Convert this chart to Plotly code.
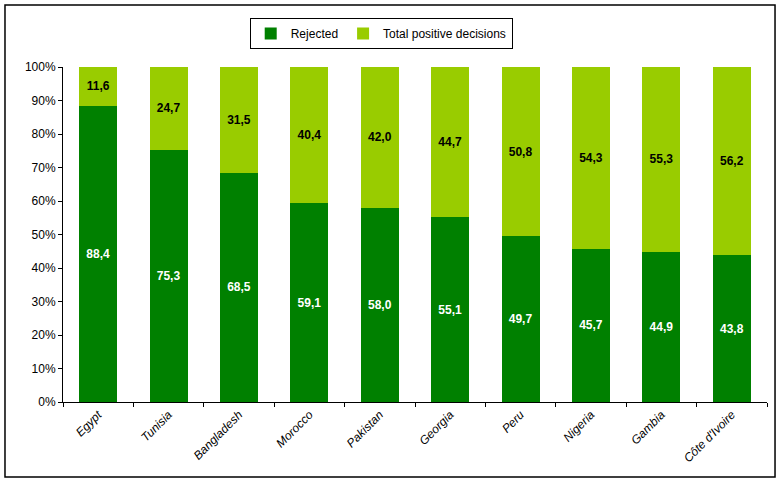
import plotly.graph_objects as go

# Données : décisions par pays
countries = ["Egypt", "Tunisia", "Bangladesh", "Morocco", "Pakistan", "Georgia",
             "Peru", "Nigeria", "Gambia", "Côte d'Ivoire"]
rejected = [88.4, 75.3, 68.5, 59.1, 58.0, 55.1, 49.7, 45.7, 44.9, 43.8]
positive = [11.6, 24.7, 31.5, 40.4, 42.0, 44.7, 50.8, 54.3, 55.3, 56.2]


def fmt(vals):
    return [f"{v:.1f}".replace(".", ",") for v in vals]


fig = go.Figure()
fig.add_trace(go.Bar(x=countries, y=rejected, name="Rejected",
                     marker=dict(color="#008000", line_width=0), text=fmt(rejected),
                     textposition="inside", insidetextanchor="middle",
                     textfont=dict(color="white", size=12, family="Liberation Sans"),
                     texttemplate="<b>%{text}</b>"))
fig.add_trace(go.Bar(x=countries, y=positive, name="Total positive decisions",
                     marker=dict(color="#99CC00", line_width=0), text=fmt(positive),
                     textposition="inside", insidetextanchor="middle",
                     textfont=dict(color="black", size=12, family="Liberation Sans"),
                     texttemplate="<b>%{text}</b>"))

fig.update_layout(
    barmode="stack", barnorm="percent", bargap=0.46,
    width=781, height=483,
    margin=dict(l=63, r=14, t=67, b=81, autoexpand=False),
    paper_bgcolor="white", plot_bgcolor="white",
    font=dict(family="Liberation Sans", size=12, color="black"),
    uniformtext=dict(mode="show", minsize=12),
    legend=dict(orientation="h", x=0.452, xanchor="center", y=1.10, yanchor="middle",
                bordercolor="black", borderwidth=1, font=dict(size=12),
                traceorder="normal"),
    shapes=[dict(type="rect", xref="paper", yref="paper",
                 x0=-0.0824, x1=1.0114, y0=-0.2239, y1=1.185,
                 line=dict(color="black", width=1.5))],
)
fig.update_yaxes(range=[0, 100], dtick=10, ticksuffix="%", showgrid=False,
                 showline=True, linecolor="black", ticks="outside", ticklen=4,
                 tickcolor="black", zeroline=False, automargin=False)
fig.update_xaxes(tickangle=-45, showgrid=False, showline=True, linecolor="black",
                 ticks="outside", tickson="boundaries", ticklen=4, tickcolor="black",
                 tickfont=dict(size=12, style="italic"), automargin=False)

# la page HTML ajoute 8px de marge autour du graphique : on la retire
fig.write_html("out.html", config={"displayModeBar": False},
               post_script="document.body.style.margin='0';")
